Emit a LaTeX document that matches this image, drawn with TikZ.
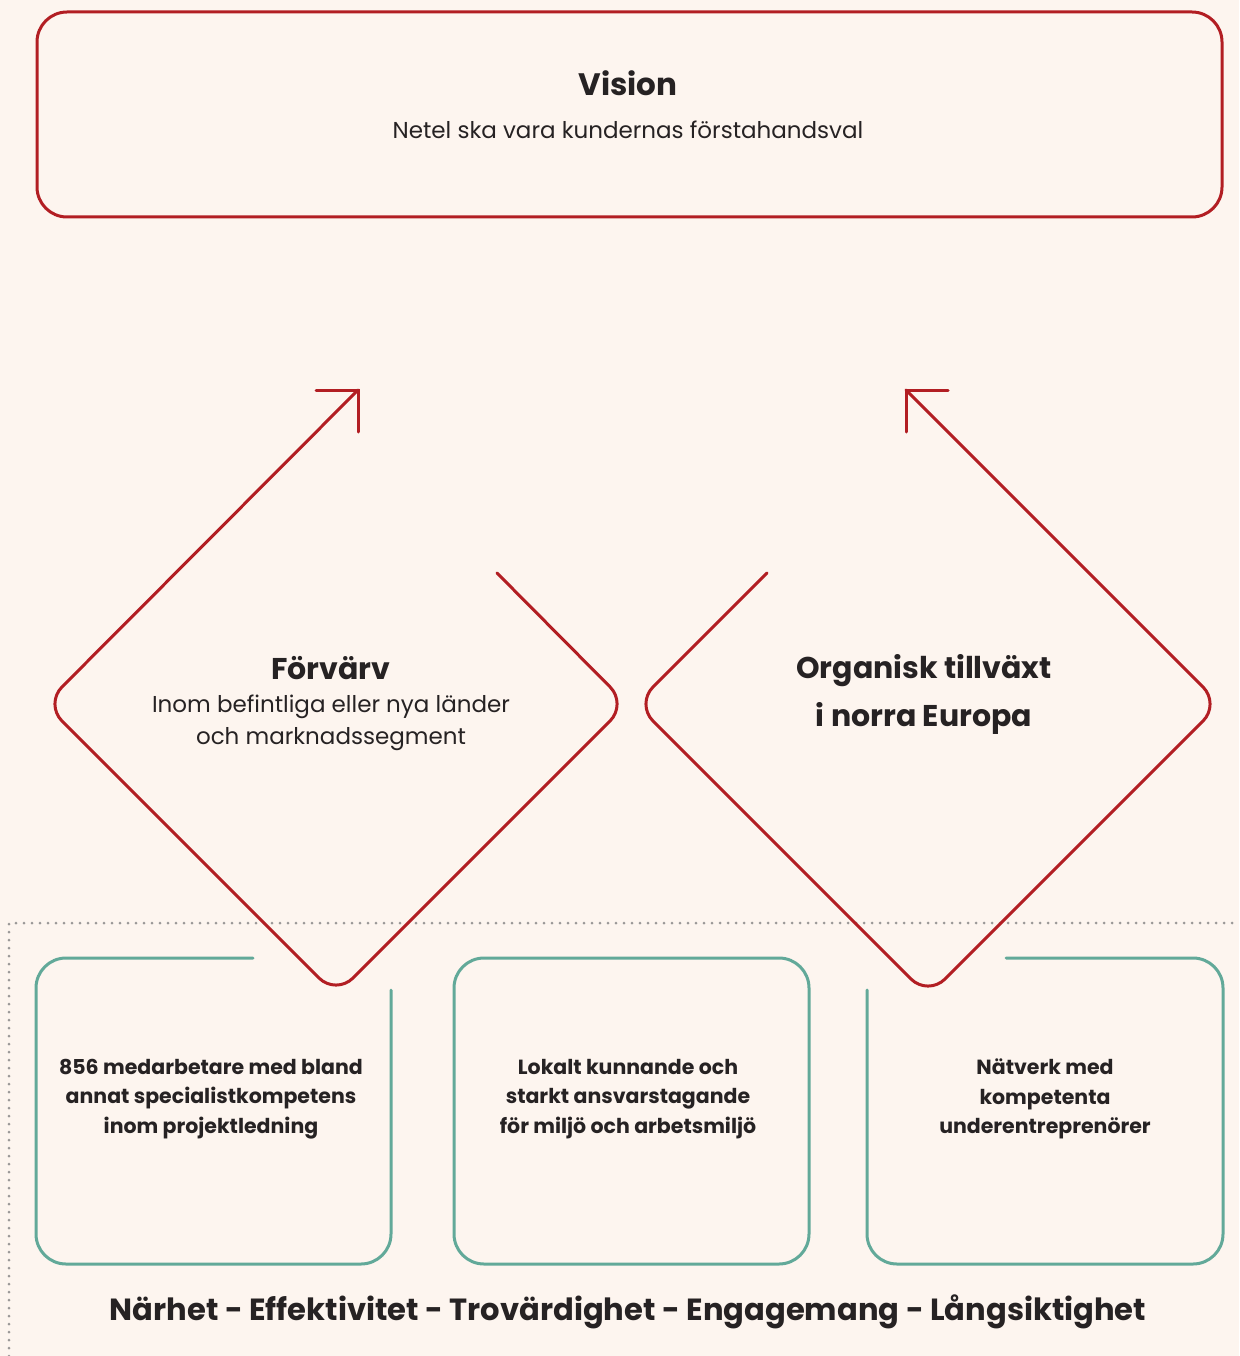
\documentclass[tikz,border=0pt]{standalone}
\usepackage{fontspec}
\setmainfont{Poppins}
\usetikzlibrary{positioning}

\definecolor{bgcream}{HTML}{FDF5EF}
\definecolor{netelred}{HTML}{B21E23}
\definecolor{netelteal}{HTML}{62A999}
\definecolor{inkgray}{HTML}{262223}
\definecolor{dotgray}{HTML}{9A9897}

\tikzstyle{redline} = [draw=netelred, line width=3pt, rounded corners=24pt, line cap=round]
\tikzstyle{redtip} = [draw=netelred, line width=3pt, line cap=round, line join=miter]
\tikzstyle{tealline} = [draw=netelteal, line width=3pt, rounded corners=30pt, line cap=round]
\tikzstyle{dotline} = [draw=dotgray, line width=3pt, line cap=round, dash pattern=on 0pt off 8pt]
\tikzstyle{headtext} = [text=inkgray, align=center, font=\bfseries\fontsize{30}{48}\selectfont]
\tikzstyle{subtext} = [text=inkgray, align=center, font=\fontsize{23}{32}\selectfont]
\tikzstyle{boxtext} = [text=inkgray, align=center, font=\bfseries\fontsize{20.5}{29.5}\selectfont]

\begin{document}
\begin{tikzpicture}[x=1pt, y=-1pt]
\fill [bgcream] (0,0) rectangle (1239,1356);
\useasboundingbox (0,0) rectangle (1239,1356);

% vision
\draw [redline, rounded corners=30pt] (37,12) rectangle (1222,217);
\node [headtext, font=\bfseries\fontsize{31}{40}\selectfont] (Vision) at (628,83) {Vision};
\node [subtext] (VisionText) at (628,130) {Netel ska vara kundernas förstahandsval};

% base line
\draw [dotline] (9,1356) -- (9,923) -- (1239,923);

% pillars
\draw [tealline] (253,958) -- (36,958) -- (36,1264) -- (391,1264) -- (391,990);
\draw [tealline] (454,958) rectangle (809,1264);
\draw [tealline] (1006,958) -- (1223,958) -- (1223,1264) -- (867,1264) -- (867,990);
\node [boxtext] (Staff) at (211,1099) {856 medarbetare med bland\\annat specialistkompetens\\inom projektledning};
\node [boxtext] (Local) at (628,1099) {Lokalt kunnande och\\starkt ansvarstagande\\för miljö och arbetsmiljö};
\node [boxtext] (Network) at (1045,1099) {Nätverk med\\kompetenta\\underentreprenörer};

% strategies
\coordinate (AcqL) at (45,704);
\coordinate (AcqB) at (336,995);
\coordinate (AcqR) at (627,704);
\coordinate (OrgL) at (636,704);
\coordinate (OrgB) at (928,996);
\coordinate (OrgR) at (1220,704);

\draw [redline] (497,573) -- (AcqR) -- (AcqB) -- (AcqL) -- (358,390);
\draw [redtip] (316,390) -- (358,390) -- (358,432);
\draw [redline] (767,573) -- (OrgL) -- (OrgB) -- (OrgR) -- (906,390);
\draw [redtip] (948,390) -- (906,390) -- (906,432);

\node [headtext] (Acq) at (331,668) {Förvärv};
\node [subtext] (AcqText) at (331,723) {Inom befintliga eller nya länder\\och marknadssegment};
\node [headtext] (Org) at (924,694) {Organisk tillväxt\\i norra Europa};

% values
\node [headtext, font=\bfseries\fontsize{30.6}{40}\selectfont] (Values) at (628,1312) {Närhet - Effektivitet - Trovärdighet - Engagemang - Långsiktighet};
\end{tikzpicture}
\end{document}
